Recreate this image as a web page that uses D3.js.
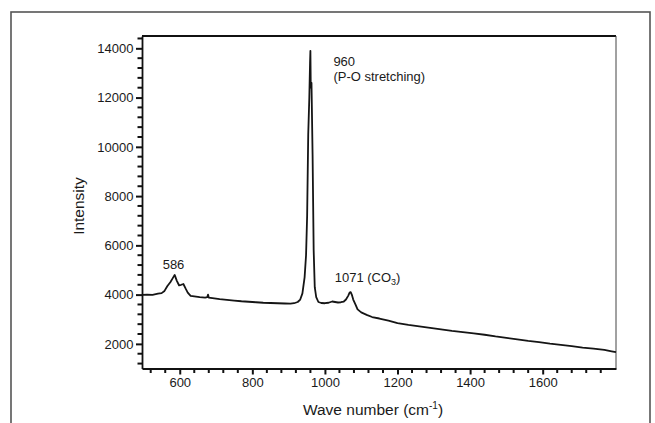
<!DOCTYPE html>
<html>
<head>
<meta charset="utf-8">
<script src="https://cdn.jsdelivr.net/npm/d3@7"></script>
<style>
  html, body { margin: 0; padding: 0; background: #fff; }
  svg { display: block; }
  text { font-family: "Liberation Sans", Arial, Helvetica, sans-serif; fill: #1a1a1a; }
</style>
</head>
<body>
<svg id="chart" width="655" height="423"></svg>
<script>
// Raman spectrum: wave number (cm-1) vs intensity
const waveNumber = [
  496, 510, 525, 540, 550, 558, 566, 574, 580, 586, 592, 598, 604, 610, 616, 622,
  630, 640, 655, 670, 676, 678, 680, 690, 710, 730, 750, 770, 790, 810, 830, 850,
  870, 890, 905, 915, 925, 932, 938, 944, 948, 951, 954, 957, 959, 960, 961, 963,
  966, 969, 972, 976, 982, 990, 1000, 1010, 1020, 1028, 1036, 1044, 1052, 1058,
  1064, 1068, 1071, 1074, 1078, 1084, 1090, 1100, 1115, 1130, 1150, 1175, 1200,
  1230, 1260, 1290, 1320, 1350, 1380, 1410, 1440, 1470, 1500, 1530, 1560, 1590,
  1620, 1650, 1680, 1710, 1740, 1770, 1790, 1802
];
const intensity = [
  3990, 4000, 3990, 4040, 4060, 4150, 4350, 4500, 4650, 4800, 4560, 4380, 4400, 4430, 4250, 4080,
  3950, 3930, 3900, 3880, 3900, 4000, 3880, 3860, 3820, 3790, 3760, 3730, 3710, 3690, 3670, 3660,
  3650, 3640, 3630, 3650, 3700, 3800, 4050, 4700, 5600, 7200, 10500, 12000, 13400, 13900, 12400, 12600,
  9700, 5800, 4300, 3900, 3700, 3660, 3650, 3670, 3720, 3700, 3680, 3690, 3720, 3800,
  3950, 4080, 4100, 4000, 3800, 3600, 3400, 3280, 3180, 3090, 3030, 2940, 2840,
  2770, 2710, 2650, 2590, 2530, 2480, 2430, 2370, 2300, 2240, 2180, 2120, 2070,
  2010, 1960, 1910, 1850, 1810, 1760, 1700, 1660
];

// Axis ticks
const xTickValues = [600, 800, 1000, 1200, 1400, 1600];
const xMinorTicks = d3.range(520, 1800, 40);
const yTickValues = [2000, 4000, 6000, 8000, 10000, 12000, 14000];
const yMinorTicks = d3.range(1200, 14500, 400);

// Peak annotations
const peakLabels = [
  { wn: 960, lines: ["960", "(P-O stretching)"] },
  { wn: 586, lines: ["586"] },
  { wn: 1071, lines: ["1071 (CO", "3", ")"] }
];

const svg = d3.select("#chart");
const plot = { left: 142, right: 616, top: 36, bottom: 368.5 };

const x = d3.scaleLinear().domain([496, 1802]).range([plot.left, plot.right]);
const y = d3.scaleLinear().domain([1000, 14500]).range([plot.bottom, plot.top]);

// outer frame
svg.append("rect")
  .attr("x", 11).attr("y", 12).attr("width", 639).attr("height", 430)
  .attr("fill", "none").attr("stroke", "#555").attr("stroke-width", 1.6);

// plot box: heavy top edge, light right edge
svg.append("line").attr("x1", plot.left).attr("x2", plot.right)
  .attr("y1", plot.top).attr("y2", plot.top)
  .attr("stroke", "#111").attr("stroke-width", 2);
svg.append("line").attr("x1", plot.right).attr("x2", plot.right)
  .attr("y1", plot.top).attr("y2", plot.bottom)
  .attr("stroke", "#444").attr("stroke-width", 1);

const fmt = d3.format("d");

// minor ticks, drawn outward from the axes
const minor = svg.append("g").attr("stroke", "#111").attr("stroke-width", 2);
minor.selectAll("line.mx")
  .data(xMinorTicks.filter(v => !xTickValues.includes(v)))
  .join("line").attr("class", "mx")
  .attr("x1", d => x(d)).attr("x2", d => x(d))
  .attr("y1", plot.bottom).attr("y2", plot.bottom + 4.5);
minor.selectAll("line.my")
  .data(yMinorTicks.filter(v => !yTickValues.includes(v)))
  .join("line").attr("class", "my")
  .attr("y1", d => y(d)).attr("y2", d => y(d))
  .attr("x1", plot.left - 4.5).attr("x2", plot.left);

// major axes
const xAxis = svg.append("g").attr("transform", `translate(0,${plot.bottom})`)
  .call(d3.axisBottom(x).tickValues(xTickValues).tickFormat(fmt).tickSize(6).tickSizeOuter(0).tickPadding(3.5));
const yAxis = svg.append("g").attr("transform", `translate(${plot.left},0)`)
  .call(d3.axisLeft(y).tickValues(yTickValues).tickFormat(fmt).tickSize(6).tickSizeOuter(0).tickPadding(2.5));

svg.selectAll(".domain").attr("stroke", "#111").attr("stroke-width", 1.8);
svg.selectAll(".tick line").attr("stroke", "#111").attr("stroke-width", 2);
svg.selectAll(".tick text").attr("font-size", 13).style("fill", "#1a1a1a")
  .attr("font-family", "'Liberation Sans', Arial, sans-serif");

// axis titles
const xt = svg.append("text").attr("x", 373).attr("y", 415)
  .attr("text-anchor", "middle").attr("font-size", 15.5);
xt.append("tspan").text("Wave number (cm");
xt.append("tspan").attr("dy", -6).attr("font-size", 10).text("-1");
xt.append("tspan").attr("dy", 6).text(")");

svg.append("text")
  .attr("transform", "translate(84,206) rotate(-90)")
  .attr("text-anchor", "middle").attr("font-size", 15.5)
  .text("Intensity");

// spectrum line
const pts = waveNumber.map((w, i) => [w, intensity[i]]);
svg.append("path")
  .datum(pts)
  .attr("fill", "none")
  .attr("stroke", "#151515")
  .attr("stroke-width", 1.8)
  .attr("stroke-linejoin", "round")
  .attr("d", d3.line().x(d => x(d[0])).y(d => y(d[1])));

// peak labels, positioned relative to each peak
const peakVal = wn => intensity[waveNumber.indexOf(wn)];

const l960 = peakLabels[0];
svg.append("text").attr("x", x(l960.wn) + 23).attr("y", y(peakVal(l960.wn)) + 15)
  .attr("font-size", 13).text(l960.lines[0]);
svg.append("text").attr("x", x(l960.wn) + 23).attr("y", y(peakVal(l960.wn)) + 30)
  .attr("font-size", 13).text(l960.lines[1]);

const l586 = peakLabels[1];
svg.append("text").attr("x", x(l586.wn) - 12).attr("y", y(peakVal(l586.wn)) - 6)
  .attr("font-size", 13).text(l586.lines[0]);

const l1071 = peakLabels[2];
const t1071 = svg.append("text").attr("x", x(l1071.wn) - 16).attr("y", y(peakVal(l1071.wn)) - 10)
  .attr("font-size", 13);
t1071.append("tspan").text(l1071.lines[0]);
t1071.append("tspan").attr("dy", 3).attr("font-size", 9).text(l1071.lines[1]);
t1071.append("tspan").attr("dy", -3).text(l1071.lines[2]);
</script>
</body>
</html>
